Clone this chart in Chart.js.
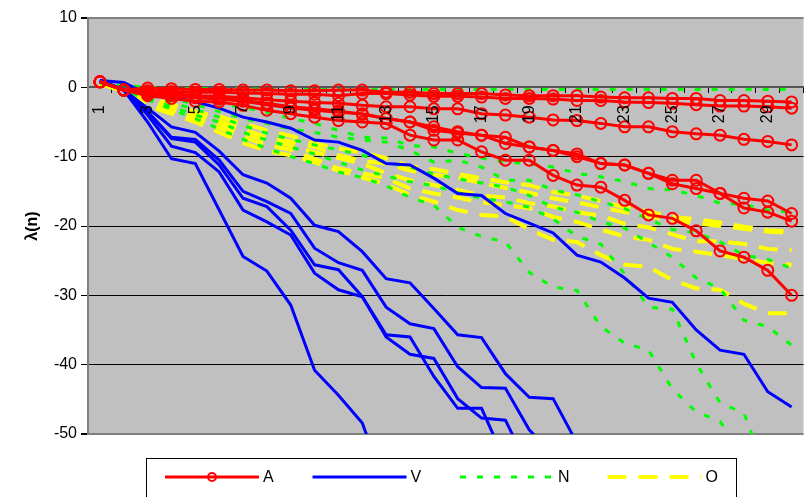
<!DOCTYPE html>
<html>
<head>
  <script src="https://cdn.jsdelivr.net/npm/chart.js"></script>
  <title>lambda(n)</title>
  <style>
    html, body { margin: 0; padding: 0; background: #fff; overflow: hidden; }
    #wrap { width: 824px; height: 497px; }
  </style>
</head>
<body>
<div id="wrap"><canvas id="chart" width="824" height="497"></canvas></div>
<script>
// categories 1..30, only odd ones get a label
const categories = ['1','2','3','4','5','6','7','8','9','10','11','12','13','14','15',
                    '16','17','18','19','20','21','22','23','24','25','26','27','28','29','30'];
const yTicks = [10, 0, -10, -20, -30, -40, -50];

// A (red, circles)
const A1 = [0.8, -0.4, -0.1, -0.2, -0.3, -0.3, -0.4, -0.4, -0.5, -0.5, -0.4, -0.4, -0.7, -0.7, -0.9, -0.9, -0.9, -1.1, -1.2, -1.2, -1.2, -1.4, -1.5, -1.5, -1.6, -1.6, -1.9, -1.9, -2.0, -2.1];
const A2 = [0.8, -0.4, -0.5, -0.6, -0.7, -0.7, -0.8, -0.9, -1.0, -1.0, -1.2, -0.9, -0.9, -1.1, -1.3, -1.3, -1.4, -1.6, -1.6, -1.7, -1.9, -1.9, -2.1, -2.2, -2.3, -2.5, -2.7, -2.7, -2.8, -3.0];
const A3 = [0.8, -0.4, -0.6, -0.9, -1.2, -1.3, -1.5, -1.8, -2.0, -2.2, -2.3, -2.6, -2.8, -2.8, -3.1, -3.1, -3.8, -4.0, -4.3, -4.7, -4.8, -5.2, -5.7, -5.7, -6.4, -6.7, -6.9, -7.5, -7.8, -8.3];
const A4 = [0.8, -0.4, -0.9, -1.2, -1.5, -1.7, -2.0, -2.5, -3.0, -3.3, -3.6, -3.8, -4.5, -5.0, -5.7, -6.4, -6.9, -7.2, -8.6, -9.1, -9.6, -11.0, -11.2, -12.4, -13.4, -13.4, -15.3, -16.0, -16.4, -18.2];
const A5 = [0.8, -0.4, -0.8, -1.0, -1.3, -1.6, -1.9, -2.3, -2.8, -3.1, -3.4, -3.9, -4.5, -5.0, -6.2, -6.6, -6.9, -8.1, -8.6, -9.1, -10.0, -11.0, -11.2, -12.4, -13.9, -14.6, -15.3, -17.4, -18.0, -19.3];
const A6 = [0.8, -0.4, -1.2, -1.6, -2.0, -2.1, -2.6, -3.3, -3.8, -4.3, -4.8, -5.0, -5.2, -6.9, -7.6, -7.6, -9.3, -10.5, -10.5, -12.7, -14.1, -14.4, -16.3, -18.4, -18.9, -20.7, -23.6, -24.5, -26.4, -30.0];

// V (blue)
const V1 = [1.0, 0.7, -1.0, -1.4, -2.1, -3.0, -4.3, -5.0, -5.9, -7.6, -7.9, -9.1, -11.0, -11.2, -13.1, -15.3, -15.6, -18.2, -19.6, -21.0, -24.2, -25.2, -27.5, -30.4, -31.0, -35.0, -37.9, -38.5, -43.9, -46.1];
const V2 = [1.0, -0.4, -3.0, -5.7, -6.5, -9.2, -12.6, -13.8, -16.0, -19.9, -20.8, -23.7, -27.6, -28.2, -31.9, -35.7, -36.1, -41.3, -44.7, -44.9, -51.3];
const V3 = [1.0, -0.4, -3.5, -7.2, -7.5, -10.5, -15.0, -16.5, -18.2, -23.2, -25.3, -26.4, -31.7, -34.1, -34.8, -40.3, -43.3, -43.4, -49.4, -53.0];
const V4 = [1.0, -0.4, -3.6, -7.4, -7.9, -11.2, -16.0, -17.2, -20.6, -25.6, -26.3, -30.2, -35.7, -36.0, -41.7, -46.3, -46.3, -54.0];
const V5 = [1.0, -0.4, -4.0, -8.5, -9.4, -12.2, -17.7, -19.4, -21.3, -26.8, -29.2, -30.2, -36.0, -38.5, -39.1, -44.9, -47.7, -48.0, -55.0];
const V6 = [1.0, -0.4, -5.0, -10.3, -11.0, -17.7, -24.4, -26.5, -31.4, -40.8, -44.4, -48.4, -58.0];

// N (green, dotted)
const N1 = [0.6, 0.3, 0.0, -0.1, -0.2, -0.2, -0.2, -0.3, -0.3, -0.3, -0.3, -0.3, -0.3, -0.3, -0.3, -0.3, -0.3, -0.3, -0.3, -0.3, -0.3, -0.3, -0.3, -0.3, -0.3, -0.3, -0.3, -0.3, -0.3, -0.3];
const N2 = [0.8, -0.4, -0.3, -0.5, -1.0, -2.4, -2.9, -3.6, -4.5, -5.2, -6.2, -7.2, -7.3, -8.4, -8.6, -9.5, -10.2, -10.8, -11.0, -11.5, -12.4, -12.9, -13.6, -14.6, -14.8, -15.6, -16.7, -16.9, -17.7, -18.0];
const N3 = [0.8, -0.4, -0.8, -1.5, -2.5, -3.5, -4.5, -5.2, -6.0, -6.5, -7.2, -7.6, -7.9, -9.1, -10.8, -10.5, -11.5, -13.4, -13.4, -14.8, -15.5, -16.5, -17.5, -19.0, -20.5, -21.0, -22.3, -24.2, -24.8, -26.1];
const N4 = [0.8, -0.4, -1.2, -2.2, -3.2, -4.3, -5.5, -6.6, -7.5, -8.3, -9.0, -9.8, -10.8, -11.5, -12.5, -13.2, -13.8, -14.4, -15.6, -17.3, -18.0, -19.4, -20.3, -22.4, -24.5, -27.5, -29.0, -33.6, -34.5, -37.2];
const N5 = [0.8, -0.4, -1.5, -2.8, -4.0, -5.0, -6.5, -7.6, -8.6, -9.6, -10.8, -11.9, -12.8, -13.6, -14.2, -15.2, -16.0, -16.5, -17.3, -19.0, -21.5, -22.6, -26.9, -31.7, -32.0, -39.8, -45.5, -47.0, -56.0];
const N6 = [0.8, -0.4, -1.8, -3.2, -4.5, -6.0, -7.5, -8.8, -10.0, -11.0, -12.2, -13.0, -14.2, -15.9, -17.0, -20.2, -21.5, -22.3, -26.7, -28.8, -29.3, -34.5, -36.9, -37.9, -43.5, -46.8, -48.2, -53.0];

// O (yellow, dashed)
const O1 = [0.5, -0.5, -1.6, -2.4, -3.5, -4.2, -5.2, -6.2, -7.0, -8.1, -8.8, -9.4, -10.2, -11.4, -11.8, -12.5, -13.1, -13.7, -14.1, -15.1, -15.6, -16.4, -17.3, -17.9, -18.7, -19.0, -19.5, -20.1, -20.6, -20.8];
const O2 = [0.5, -0.5, -1.9, -2.9, -3.8, -4.8, -6.0, -7.2, -7.8, -8.6, -9.8, -10.6, -11.0, -12.0, -12.6, -13.0, -13.8, -14.5, -15.2, -16.0, -16.6, -17.3, -18.0, -18.6, -19.2, -19.6, -20.0, -20.4, -20.8, -21.0];
const O3 = [0.5, -0.5, -2.2, -3.0, -4.2, -5.2, -6.6, -7.6, -8.4, -9.4, -10.2, -11.0, -12.4, -13.4, -14.1, -14.8, -15.6, -15.9, -16.7, -17.2, -18.0, -18.5, -19.7, -20.2, -21.2, -22.2, -22.2, -22.6, -23.3, -23.5];
const O4 = [0.5, -0.5, -2.4, -3.4, -4.6, -5.8, -7.2, -8.3, -9.0, -10.3, -11.7, -12.4, -13.1, -14.6, -15.3, -15.9, -16.6, -17.0, -17.4, -18.7, -19.4, -20.5, -21.5, -22.0, -23.3, -23.7, -24.2, -24.8, -25.3, -25.6];
const O5 = [0.5, -0.5, -2.7, -3.8, -5.0, -6.5, -8.0, -9.2, -9.8, -10.8, -12.0, -13.0, -14.0, -15.5, -16.5, -17.7, -18.4, -18.6, -20.5, -22.0, -22.3, -24.2, -25.6, -25.9, -27.8, -29.0, -29.2, -31.2, -32.6, -32.6];

const groups = [
  { label: 'A', color: '#FF0000', dash: [], width: 3, marker: true, series: [A1, A2, A3, A4, A5, A6] },
  { label: 'V', color: '#0000FF', dash: [], width: 3, marker: false, series: [V1, V2, V3, V4, V5, V6] },
  { label: 'N', color: '#00FF00', dash: [6, 11], width: 3, marker: false, series: [N1, N2, N3, N4, N5, N6] },
  { label: 'O', color: '#FFFF00', dash: [19, 12], width: 4, marker: false, series: [O1, O2, O3, O4, O5] }
];

const datasets = [];
groups.forEach(g => {
  g.series.forEach(s => {
    datasets.push({
      label: g.label,
      data: s,
      borderColor: g.color,
      borderWidth: g.width,
      borderDash: g.dash,
      pointRadius: g.marker ? 5.5 : 0,
      pointBorderWidth: 2,
      pointBorderColor: g.color,
      pointBackgroundColor: 'rgba(0,0,0,0)',
      fill: false,
      tension: 0
    });
  });
});

const plotBg = {
  id: 'plotBg',
  beforeDraw(chart) {
    const a = chart.chartArea, ctx = chart.ctx;
    ctx.save();
    ctx.fillStyle = '#C0C0C0';
    ctx.fillRect(a.left, a.top, a.right - a.left, a.bottom - a.top);
    ctx.restore();
  }
};

const boxLegend = {
  id: 'boxLegend',
  afterDraw(chart) {
    const ctx = chart.ctx;
    ctx.save();
    ctx.strokeStyle = '#000';
    ctx.lineWidth = 1;
    ctx.strokeRect(146.5, 458.5, 590, 60);
    const y = 477;
    groups.forEach((g, i) => {
      const x0 = 165 + i * 147.5;
      ctx.beginPath();
      ctx.strokeStyle = g.color;
      ctx.lineWidth = g.width;
      ctx.setLineDash(g.dash);
      ctx.moveTo(x0, y);
      ctx.lineTo(x0 + 94, y);
      ctx.stroke();
      ctx.setLineDash([]);
      if (g.marker) {
        ctx.beginPath();
        ctx.lineWidth = 2;
        ctx.arc(x0 + 47, y, 4, 0, Math.PI * 2);
        ctx.stroke();
      }
      ctx.fillStyle = '#000';
      ctx.font = '16px Arial, "Liberation Sans", sans-serif';
      ctx.textBaseline = 'middle';
      ctx.fillText(g.label, x0 + 98, y + 1);
    });
    ctx.restore();
  }
};

new Chart(document.getElementById('chart'), {
  type: 'line',
  data: { labels: categories, datasets: datasets },
  options: {
    responsive: false,
    animation: false,
    layout: { padding: { left: 0, right: 11, top: 18, bottom: 63 } },
    plugins: { legend: { display: false }, tooltip: { enabled: false } },
    scales: {
      x: {
        type: 'category',
        position: { y: 0 },
        offset: true,
        border: { color: '#555', width: 2 },
        grid: { offset: true, drawOnChartArea: false, color: '#000', tickLength: 5 },
        ticks: {
          z: 1,
          autoSkip: false,
          minRotation: 90,
          maxRotation: 90,
          padding: 13,
          color: '#000',
          font: { family: 'Arial, "Liberation Sans", sans-serif', size: 16 },
          callback: (v, i) => (i % 2 === 0 ? categories[i] : '')
        }
      },
      y: {
        min: -50,
        max: 10,
        afterBuildTicks: s => { s.ticks = yTicks.map(v => ({ value: v })); },
        afterFit: s => { s.width = 88; },
        border: { color: '#808080', width: 2 },
        grid: {
          color: c => (c.tick.value === 10 || c.tick.value === -50) ? '#808080' : (c.tick.value === 0 ? 'rgba(0,0,0,0)' : '#000'),
          lineWidth: c => (c.tick.value === 10 || c.tick.value === -50) ? 2 : 1,
          tickColor: '#000',
          tickLength: 7
        },
        ticks: {
          padding: 4,
          color: '#000',
          font: { family: 'Arial, "Liberation Sans", sans-serif', size: 16 }
        },
        title: {
          display: true,
          text: 'λ(n)',
          color: '#000',
          padding: { top: 23, bottom: 0 },
          font: { family: 'Arial, "Liberation Sans", sans-serif', size: 16, weight: 'bold' }
        }
      }
    }
  },
  plugins: [plotBg, boxLegend]
});
</script>
</body>
</html>
